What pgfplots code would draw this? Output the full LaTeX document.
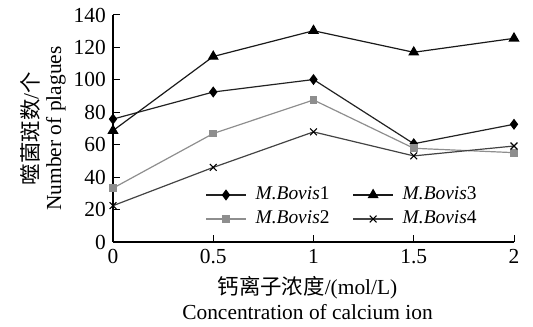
\documentclass[border=0pt]{standalone}
\usepackage{fontspec}
\setmainfont{Liberation Serif}
\newfontfamily\cjk{Noto Sans CJK SC}
\usepackage{pgfplots}
\pgfplotsset{compat=1.18}
\definecolor{gm}{HTML}{8E8E8E}
\definecolor{dk}{HTML}{222222}
\begin{document}
\fontsize{21}{24}\selectfont
\begin{tikzpicture}
\begin{axis}[
  scale only axis, width=401bp, height=227bp,
  xmin=0, xmax=2, ymin=0, ymax=140,
  axis lines=left,
  axis line style={-, line width=1.1bp, black},
  xtick={0,0.5,1,1.5,2}, ytick={0,20,...,140},
  xticklabels={0,0.5,1,1.5,2},
  tick align=inside, major tick length=7bp,
  tick style={black, line width=1bp},
  /pgf/number format/assume math mode=true,
  ticklabel style={font=\fontsize{21.5}{22}\selectfont},
  xlabel={{\cjk 钙离子浓度}/(mol/L)\\Concentration of calcium ion},
  xlabel style={align=center, font=\fontsize{21.5}{25}\selectfont, at={(axis description cs:0.5,0)}, anchor=north, yshift=-27bp, xshift=-6bp},
  ylabel={{\cjk 噬菌斑数}/{\cjk 个}\\Number of plagues},
  ylabel style={align=center, font=\fontsize{21.5}{23}\selectfont, at={([xshift=-40bp]axis description cs:0,0.5)}, anchor=south},
  legend style={draw=none, fill=none, at={(axis cs:0.445,36.5)}, anchor=north west,
    font=\fontsize{19.5}{22}\selectfont, row sep=4bp,
    /tikz/every even column/.append style={column sep=14bp},
    nodes={inner xsep=9bp}},
  legend columns=2, transpose legend,
  legend cell align=left,
  legend image code/.code={\draw[mark repeat=2, mark phase=2] plot coordinates {(0bp,0bp) (20bp,0bp) (40bp,0bp)};},
  clip=false,
  every axis plot/.append style={line width=1.2bp},
]
\addplot[dk, mark=diamond*, mark size=4.6bp, mark options={black, solid}] coordinates {(0,75.8) (0.5,92.5) (1,100.2) (1.5,60.6) (2,72.6)};
\addlegendentry{\textit{M.Bovis}1}
\addplot[gm, mark=square*, mark size=3.3bp, mark options={gm, solid}] coordinates {(0,33.2) (0.5,66.9) (1,87.6) (1.5,57.8) (2,55.1)};
\addlegendentry{\textit{M.Bovis}2}
\addplot[black!90, mark=triangle*, mark size=5.2bp, mark options={black, solid}] coordinates {(0,68.7) (0.5,114.4) (1,130.3) (1.5,117) (2,125.6)};
\addlegendentry{\textit{M.Bovis}3}
\addplot[dk!85, mark=x, mark size=4.8bp, mark options={black, solid, line width=1.1bp}] coordinates {(0,22.4) (0.5,46) (1,67.9) (1.5,53.1) (2,59.2)};
\addlegendentry{\textit{M.Bovis}4}
\end{axis}
\path (current axis.south west) ++(-113bp,-84bp) rectangle ++(533bp,326bp);
\end{tikzpicture}
\end{document}
